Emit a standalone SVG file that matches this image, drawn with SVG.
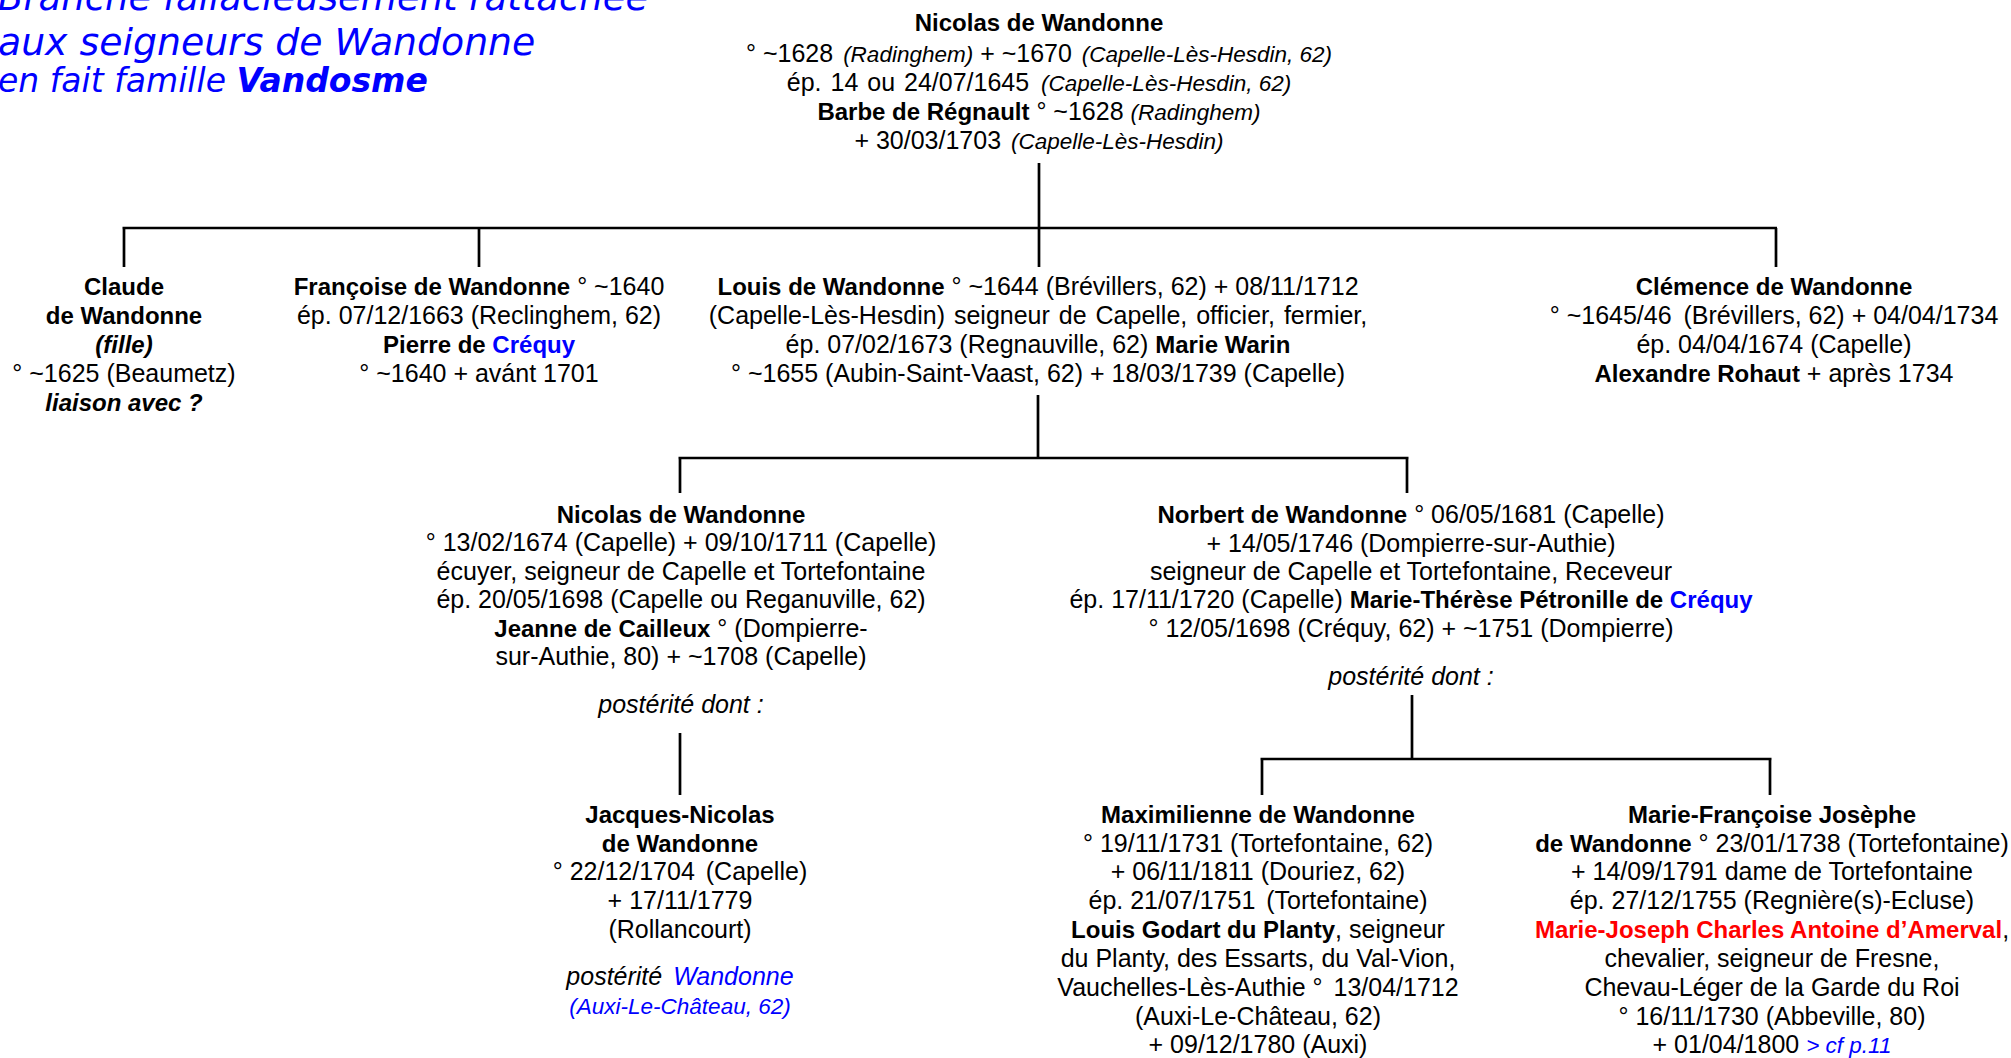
<svg xmlns="http://www.w3.org/2000/svg" width="2011" height="1058" viewBox="0 0 2011 1058">
<style>
text{font-family:"Liberation Sans",Arial,sans-serif;font-size:25px;fill:#000;text-anchor:middle}
.b{font-weight:bold;font-size:24px}
.i{font-style:italic}
.s{font-size:22.5px}
.blue{fill:#0000FF}
.red{fill:#FF0000}
.title{font-family:"DejaVu Sans",Verdana,sans-serif;font-style:italic;fill:#0000FF;text-anchor:start}
.c path{stroke:#000;stroke-width:2.7;fill:none}
</style>
<rect width="2011" height="1058" fill="#fff"/>
<g id="title">
<text class="title" x="-2" y="10" style="font-size:37px">Branche fallacieusement rattachée</text>
<text class="title" x="-2" y="55" style="font-size:37.8px">aux seigneurs de Wandonne</text>
<text class="title" x="-2" y="92" style="font-size:33px">en fait famille <tspan font-weight="bold">Vandosme</tspan></text>
</g>
<g class="c" id="connectors">
<path d="M1039 163V228M122.5 228H1777M124 228V267M479 228V267M1039 228V267M1776 228V267"/>
<path d="M1038 395V458M678.5 458H1408.5M680 458V493M1407 458V493"/>
<path d="M680 733V795"/>
<path d="M1412 695V759M1260.5 759H1771.5M1262 759V795M1770 759V795"/>
</g>
<g id="n-nicolas-sr">
<text x="1039" y="31" class="b">Nicolas de Wandonne</text>
<text x="1039" y="62">° ~1628 <tspan class="i s" dx="3">(Radinghem)</tspan> + ~1670 <tspan class="i s" dx="3">(Capelle-Lès-Hesdin, 62)</tspan></text>
<text x="1039" y="91" word-spacing="2">ép. 14 ou 24/07/1645 <tspan class="i s" dx="3" word-spacing="0">(Capelle-Lès-Hesdin, 62)</tspan></text>
<text x="1039" y="120"><tspan class="b">Barbe de Régnault</tspan> ° ~1628 <tspan class="i s">(Radinghem)</tspan></text>
<text x="1039" y="149">+ 30/03/1703 <tspan class="i s" dx="3">(Capelle-Lès-Hesdin)</tspan></text>
</g>
<g id="n-claude">
<text x="124" y="295" class="b">Claude</text>
<text x="124" y="324" class="b">de Wandonne</text>
<text x="124" y="353" class="b i">(fille)</text>
<text x="124" y="382">° ~1625 (Beaumetz)</text>
<text x="124" y="411" class="b i">liaison avec ?</text>
</g>
<g id="n-francoise">
<text x="479" y="295"><tspan class="b">Françoise de Wandonne</tspan> ° ~1640</text>
<text x="479" y="324">ép. 07/12/1663 (Reclinghem, 62)</text>
<text x="479" y="353" class="b">Pierre de <tspan class="blue">Créquy</tspan></text>
<text x="479" y="382">° ~1640 + avánt 1701</text>
</g>
<g id="n-louis">
<text x="1038" y="295"><tspan class="b">Louis de Wandonne</tspan> ° ~1644 (Brévillers, 62) + 08/11/1712</text>
<text x="1038" y="324" word-spacing="2">(Capelle-Lès-Hesdin) seigneur de Capelle, officier, fermier,</text>
<text x="1038" y="353">ép. 07/02/1673 (Regnauville, 62) <tspan class="b">Marie Warin</tspan></text>
<text x="1038" y="382">° ~1655 (Aubin-Saint-Vaast, 62) + 18/03/1739 (Capelle)</text>
</g>
<g id="n-clemence">
<text x="1774" y="295" class="b">Clémence de Wandonne</text>
<text x="1774" y="324">° ~1645/46 <tspan dx="5">(Brévillers, 62) + 04/04/1734</tspan></text>
<text x="1774" y="353">ép. 04/04/1674 (Capelle)</text>
<text x="1774" y="382"><tspan class="b">Alexandre Rohaut</tspan> + après 1734</text>
</g>
<g id="n-nicolas">
<text x="681" y="523" class="b">Nicolas de Wandonne</text>
<text x="681" y="551">° 13/02/1674 (Capelle) + 09/10/1711 (Capelle)</text>
<text x="681" y="580">écuyer, seigneur de Capelle et Tortefontaine</text>
<text x="681" y="608">ép. 20/05/1698 (Capelle ou Reganuville, 62)</text>
<text x="681" y="637"><tspan class="b">Jeanne de Cailleux</tspan> ° (Dompierre-</text>
<text x="681" y="665">sur-Authie, 80) + ~1708 (Capelle)</text>
<text x="681" y="713" class="i">postérité dont :</text>
</g>
<g id="n-norbert">
<text x="1411" y="523"><tspan class="b">Norbert de Wandonne</tspan> ° 06/05/1681 (Capelle)</text>
<text x="1411" y="552">+ 14/05/1746 (Dompierre-sur-Authie)</text>
<text x="1411" y="580">seigneur de Capelle et Tortefontaine, Receveur</text>
<text x="1411" y="608">ép. 17/11/1720 (Capelle) <tspan class="b">Marie-Thérèse Pétronille de <tspan class="blue">Créquy</tspan></tspan></text>
<text x="1411" y="637">° 12/05/1698 (Créquy, 62) + ~1751 (Dompierre)</text>
<text x="1411" y="685" class="i">postérité dont :</text>
</g>
<g id="n-jacques">
<text x="680" y="823" class="b">Jacques-Nicolas</text>
<text x="680" y="852" class="b">de Wandonne</text>
<text x="680" y="880">° 22/12/1704 <tspan dx="4">(Capelle)</tspan></text>
<text x="680" y="909">+ 17/11/1779</text>
<text x="680" y="938">(Rollancourt)</text>
<text x="680" y="985" class="i">postérité <tspan class="blue" dx="4">Wandonne</tspan></text>
<text x="680" y="1014" class="i s blue">(Auxi-Le-Château, 62)</text>
</g>
<g id="n-maximilienne">
<text x="1258" y="823" class="b">Maximilienne de Wandonne</text>
<text x="1258" y="852">° 19/11/1731 (Tortefontaine, 62)</text>
<text x="1258" y="880">+ 06/11/1811 (Douriez, 62)</text>
<text x="1258" y="909">ép. 21/07/1751 <tspan dx="4">(Tortefontaine)</tspan></text>
<text x="1258" y="938"><tspan class="b">Louis Godart du Planty</tspan>, seigneur</text>
<text x="1258" y="967">du Planty, des Essarts, du Val-Vion,</text>
<text x="1258" y="996">Vauchelles-Lès-Authie ° <tspan dx="4">13/04/1712</tspan></text>
<text x="1258" y="1025">(Auxi-Le-Château, 62)</text>
<text x="1258" y="1053">+ 09/12/1780 (Auxi)</text>
</g>
<g id="n-mariefrancoise">
<text x="1772" y="823" class="b">Marie-Françoise Josèphe</text>
<text x="1772" y="852"><tspan class="b">de Wandonne</tspan> ° 23/01/1738 (Tortefontaine)</text>
<text x="1772" y="880">+ 14/09/1791 dame de Tortefontaine</text>
<text x="1772" y="909">ép. 27/12/1755 (Regnière(s)-Ecluse)</text>
<text x="1772" y="938"><tspan class="b red">Marie-Joseph Charles Antoine d’Amerval</tspan>,</text>
<text x="1772" y="967">chevalier, seigneur de Fresne,</text>
<text x="1772" y="996">Chevau-Léger de la Garde du Roi</text>
<text x="1772" y="1025">° 16/11/1730 (Abbeville, 80)</text>
<text x="1772" y="1053">+ 01/04/1800 <tspan class="i s blue">&gt; cf p.11</tspan></text>
</g>
</svg>
